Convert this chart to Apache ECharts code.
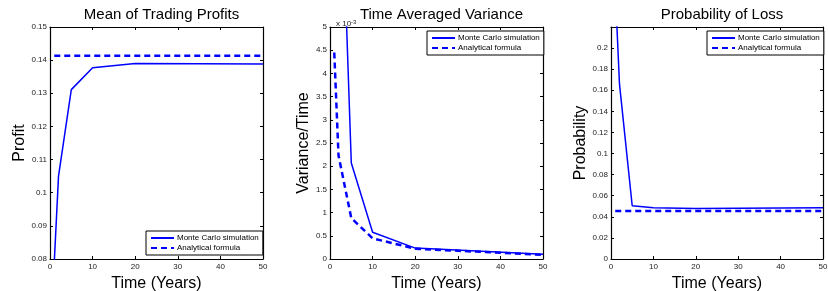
<!DOCTYPE html>
<html>
<head>
<meta charset="utf-8">
<script src="https://cdn.jsdelivr.net/npm/echarts@6/dist/echarts.min.js"></script>
<style>
  html, body { margin: 0; padding: 0; background: #fff; }
  #chart { width: 828px; height: 291px; }
</style>
</head>
<body>
<div id="chart"></div>
<script>
// time points (years)
var years = [1, 2, 5, 10, 20, 50]

// mean of trading profits
var profitMC = [0.079, 0.105, 0.1311, 0.1377, 0.1390, 0.1388]
var profitAnalytic = [0.1413, 0.1413, 0.1413, 0.1413, 0.1413, 0.1413]

// time averaged variance (x 10^-3)
var varMC = [20, 10.1, 2.07, 0.575, 0.235, 0.105]
var varAnalytic = [4.45, 2.23, 0.88, 0.446, 0.222, 0.089]

// probability of loss
var lossMC = [0.256, 0.166, 0.0505, 0.0485, 0.0478, 0.0485]
var lossAnalytic = [0.0455, 0.0455, 0.0455, 0.0455, 0.0455, 0.0455]

var titles = ['Mean of Trading Profits', 'Time Averaged Variance', 'Probability of Loss']
var yNames = ['Profit', 'Variance/Time', 'Probability']
var xName = 'Time (Years)'

var FONT = 'Liberation Sans'
var BLUE = '#0000ff'

function pairs(xs, ys) {
    return xs.map(function (x, i) { return [x, ys[i]] })
}

var grids = [
    {left: 50, top: 27, width: 213, height: 232, outerBoundsMode: 'none', containLabel: false},
    {left: 330, top: 27, width: 213, height: 232, outerBoundsMode: 'none', containLabel: false},
    {left: 611, top: 27, width: 212, height: 232, outerBoundsMode: 'none', containLabel: false}
]
var yRanges = [
    {min: 0.08, max: 0.15, interval: 0.01},
    {min: 0, max: 5, interval: 0.5},
    {min: 0, max: 0.22, interval: 0.02}
]
var yGaps = [22, 17, 22]
var legendPos = [
    {left: 146, top: 231},
    {left: 427, top: 31},
    {left: 707, top: 31}
]

var axisLine = {show: true, onZero: false, lineStyle: {color: '#000', width: 1.2}}
var axisTick = {show: true, inside: true, length: 3, lineStyle: {color: '#000'}}

var xAxes = [], yAxes = [], series = [], titleList = [], legends = []

grids.forEach(function (g, i) {
    // bottom axis with labels
    xAxes.push({
        gridIndex: i, type: 'value', min: 0, max: 50, interval: 10,
        position: 'bottom',
        name: xName, nameLocation: 'middle', nameGap: 15,
        nameTextStyle: {fontFamily: FONT, fontSize: 16, color: '#000'},
        axisLine: axisLine, axisTick: axisTick,
        axisLabel: {fontFamily: FONT, fontSize: 8, color: '#222', margin: 4},
        splitLine: {show: false}
    })
    // top axis, ticks only
    xAxes.push({
        gridIndex: i, type: 'value', min: 0, max: 50, interval: 10,
        position: 'top',
        axisLine: axisLine, axisTick: axisTick,
        axisLabel: {show: false}, splitLine: {show: false}
    })
    var r = yRanges[i]
    yAxes.push({
        gridIndex: i, type: 'value', min: r.min, max: r.max, interval: r.interval,
        position: 'left',
        name: yNames[i], nameLocation: 'middle', nameGap: yGaps[i],
        nameTextStyle: {fontFamily: FONT, fontSize: 16, color: '#000'},
        axisLine: axisLine, axisTick: axisTick,
        axisLabel: {
            fontFamily: FONT, fontSize: 8, color: '#222', margin: 3,
            formatter: function (v) {
                if (i === 2 && Math.abs(v - 0.22) < 1e-9) return ''
                return +v.toFixed(4) + ''
            }
        },
        splitLine: {show: false}
    })
    yAxes.push({
        gridIndex: i, type: 'value', min: r.min, max: r.max, interval: r.interval,
        position: 'right',
        axisLine: axisLine, axisTick: axisTick,
        axisLabel: {show: false}, splitLine: {show: false}
    })
    titleList.push({
        text: titles[i],
        left: g.left + g.width / 2, top: 2, textAlign: 'center',
        textStyle: {fontFamily: FONT, fontSize: 15, fontWeight: 'normal', color: '#000'}
    })
    legends.push({
        left: legendPos[i].left, top: legendPos[i].top,
        orient: 'vertical',
        data: ['Monte Carlo simulation', 'Analytical formula'],
        backgroundColor: '#fff', borderColor: '#000', borderWidth: 1,
        padding: [3, 4, 3, 4], itemGap: 2, itemWidth: 23, itemHeight: 8,
        itemStyle: {opacity: 0},
        textStyle: {fontFamily: FONT, fontSize: 8, color: '#000', padding: [0, 0, 0, -2]},
        selectedMode: false
    })
})

// multiplier label for the variance panel
titleList.push({
    text: 'x 10{s|-3}',
    left: 331, top: 14,
    textStyle: {
        fontFamily: FONT, fontSize: 8, fontWeight: 'normal', color: '#222',
        rich: {s: {fontFamily: FONT, fontSize: 6, color: '#222', verticalAlign: 'top', padding: [0, 0, 4, 0]}}
    }
})

var sets = [
    [profitMC, profitAnalytic],
    [varMC, varAnalytic],
    [lossMC, lossAnalytic]
]
sets.forEach(function (s, i) {
    series.push({
        name: 'Monte Carlo simulation', type: 'line',
        xAxisIndex: i * 2, yAxisIndex: i * 2,
        data: pairs(years, s[0]),
        symbol: 'none', clip: true,
        lineStyle: {color: BLUE, width: 1.5},
        itemStyle: {color: BLUE}
    })
    series.push({
        name: 'Analytical formula', type: 'line',
        xAxisIndex: i * 2, yAxisIndex: i * 2,
        data: pairs(years, s[1]),
        symbol: 'none', clip: true,
        lineStyle: {color: BLUE, width: 2.5, type: [6, 4]},
        itemStyle: {color: BLUE}
    })
})

var myChart = echarts.init(document.getElementById('chart'))
myChart.setOption({
    animation: false,
    backgroundColor: '#fff',
    title: titleList,
    legend: legends,
    grid: grids,
    xAxis: xAxes,
    yAxis: yAxes,
    series: series
})
</script>
</body>
</html>
